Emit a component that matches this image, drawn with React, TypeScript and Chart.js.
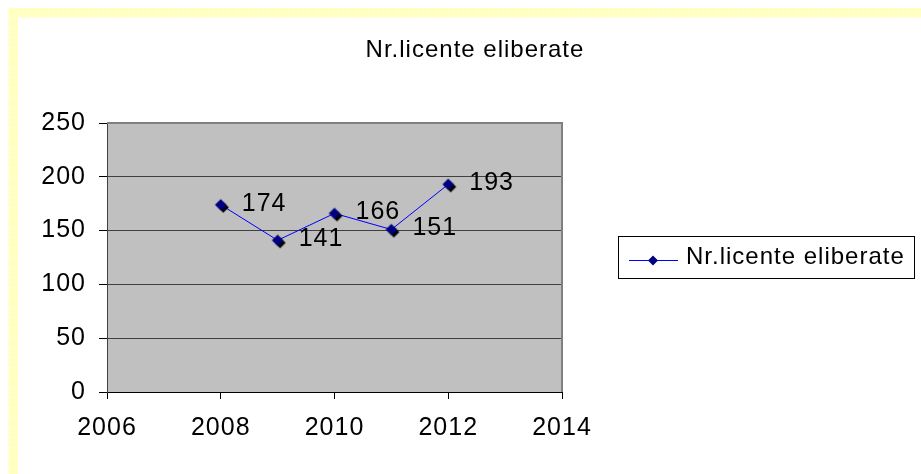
import React, { useEffect, useRef } from "react";
import { Chart, registerables } from "chart.js";

Chart.register(...registerables);

// ---- data ----
const chartTitle = "Nr.licente eliberate";
const seriesLabel = "Nr.licente eliberate";
const years = [2008, 2009, 2010, 2011, 2012];
const licences = [174, 141, 166, 151, 193];
const xTicks = [2006, 2008, 2010, 2012, 2014];
const yTicks = [0, 50, 100, 150, 200, 250];

const FONT = "'Liberation Sans', Arial, sans-serif";
const CANVAS_W = 903;
const CANVAS_H = 456;

function makeMarker(): HTMLCanvasElement {
  const c = document.createElement("canvas");
  c.width = 20;
  c.height = 20;
  const g = c.getContext("2d")!;
  const diamond = (cx: number, cy: number, r: number, color: string) => {
    g.beginPath();
    g.moveTo(cx, cy - r);
    g.lineTo(cx + r, cy);
    g.lineTo(cx, cy + r);
    g.lineTo(cx - r, cy);
    g.closePath();
    g.fillStyle = color;
    g.fill();
  };
  diamond(12.5, 12.5, 5.5, "#000000");
  diamond(10, 10, 5.8, "#000080");
  return c;
}

export default function App() {
  const ref = useRef<HTMLCanvasElement>(null);

  useEffect(() => {
    const canvas = ref.current;
    if (!canvas) return;
    const marker = makeMarker();

    const decor = {
      id: "decor",
      beforeDraw(chart: any) {
        const { ctx, chartArea: a } = chart;
        ctx.letterSpacing = "1px";
        ctx.save();
        ctx.fillStyle = "#C0C0C0";
        ctx.fillRect(a.left, a.top, a.right - a.left, a.bottom - a.top);
        ctx.restore();
      },
      beforeDatasetsDraw(chart: any) {
        const { ctx, chartArea: a } = chart;
        ctx.save();
        ctx.strokeStyle = "#808080";
        ctx.lineWidth = 2;
        ctx.beginPath();
        ctx.moveTo(a.left, a.top);
        ctx.lineTo(a.right, a.top);
        ctx.lineTo(a.right, a.bottom);
        ctx.stroke();
        ctx.restore();
      },
      afterDatasetsDraw(chart: any) {
        const { ctx } = chart;
        const meta = chart.getDatasetMeta(0);
        const data = chart.data.datasets[0].data as any[];
        ctx.save();
        ctx.font = `25px ${FONT}`;
        ctx.fillStyle = "#000";
        ctx.textAlign = "left";
        ctx.textBaseline = "middle";
        meta.data.forEach((pt: any, i: number) => {
          ctx.fillText(String(data[i].y), pt.x + 21, pt.y - 1);
        });
        ctx.restore();
      },
      afterDraw(chart: any) {
        const { ctx } = chart;
        ctx.save();
        // title
        ctx.font = `24px ${FONT}`;
        ctx.fillStyle = "#000";
        ctx.textAlign = "center";
        ctx.textBaseline = "middle";
        ctx.fillText(chartTitle, 457, 32);
        // legend
        const ds = chart.data.datasets[0];
        ctx.strokeStyle = "#000";
        ctx.lineWidth = 1;
        ctx.strokeRect(600.5, 218.5, 296, 42);
        ctx.strokeStyle = ds.borderColor;
        ctx.beginPath();
        ctx.moveTo(611, 242.5);
        ctx.lineTo(660, 242.5);
        ctx.stroke();
        ctx.save();
        ctx.fillStyle = "#000080";
        ctx.beginPath();
        ctx.moveTo(635, 237.5);
        ctx.lineTo(640, 242.5);
        ctx.lineTo(635, 247.5);
        ctx.lineTo(630, 242.5);
        ctx.closePath();
        ctx.fill();
        ctx.restore();
        ctx.textAlign = "left";
        ctx.fillStyle = "#000";
        ctx.fillText(ds.label, 668, 239);
        ctx.restore();
      },
    };

    const chart = new Chart(canvas, {
      type: "line",
      data: {
        datasets: [
          {
            label: seriesLabel,
            data: years.map((x, i) => ({ x, y: licences[i] })),
            borderColor: "#0000FF",
            borderWidth: 1,
            tension: 0,
            pointStyle: marker as any,
            pointRadius: 6,
            fill: false,
          },
        ],
      },
      options: {
        animation: false,
        responsive: false,
        devicePixelRatio: 1,
        layout: { padding: { left: 0, top: 105, right: CANVAS_W - 544, bottom: 0 } },
        font: { family: FONT, size: 25 },
        plugins: {
          legend: { display: false },
          title: { display: false },
          tooltip: { enabled: false },
        },
        scales: {
          x: {
            type: "linear",
            min: 2006,
            max: 2014,
            afterBuildTicks: (s: any) => {
              s.ticks = xTicks.map((v) => ({ value: v }));
            },
            afterFit: (s: any) => {
              s.height = CANVAS_H - 374;
            },
            ticks: {
              color: "#000",
              font: { family: FONT, size: 25 },
              padding: 14,
              maxRotation: 0,
              autoSkip: false,
              callback: (v: any) => String(v),
            },
            grid: {
              drawOnChartArea: false,
              drawTicks: true,
              tickLength: 7,
              tickColor: "#000",
            },
            border: { color: "#000", width: 1 },
          },
          y: {
            type: "linear",
            min: 0,
            max: 250,
            afterBuildTicks: (s: any) => {
              s.ticks = yTicks.map((v) => ({ value: v }));
            },
            afterFit: (s: any) => {
              s.width = 89;
            },
            ticks: {
              color: "#000",
              font: { family: FONT, size: 25 },
              padding: 13,
              callback: (v: any) => String(v),
            },
            grid: {
              color: "#404040",
              lineWidth: 1,
              drawTicks: true,
              tickLength: 8,
              tickColor: "#000",
            },
            border: { color: "#404040", width: 1 },
          },
        },
      },
      plugins: [decor],
    } as any);

    return () => chart.destroy();
  }, []);

  const yellow = "#FFFFC0";
  const pattern =
    "linear-gradient(90deg, rgba(255,255,255,0.45) 1px, transparent 1px), linear-gradient(0deg, rgba(255,255,255,0.45) 1px, transparent 1px)";

  return (
    <div
      style={{
        position: "fixed",
        left: 0,
        top: 0,
        width: 921,
        height: 474,
        background: "#fff",
        overflow: "hidden",
      }}
    >
      <div
        style={{
          position: "absolute",
          left: 8,
          top: 8,
          width: 913,
          height: 10,
          backgroundColor: yellow,
          backgroundImage: pattern,
          backgroundSize: "10px 10px",
        }}
      />
      <div
        style={{
          position: "absolute",
          left: 8,
          top: 8,
          width: 10,
          height: 466,
          backgroundColor: yellow,
          backgroundImage: pattern,
          backgroundSize: "10px 10px",
        }}
      />
      <canvas
        ref={ref}
        width={CANVAS_W}
        height={CANVAS_H}
        style={{ position: "absolute", left: 18, top: 18, width: CANVAS_W, height: CANVAS_H }}
      />
    </div>
  );
}
